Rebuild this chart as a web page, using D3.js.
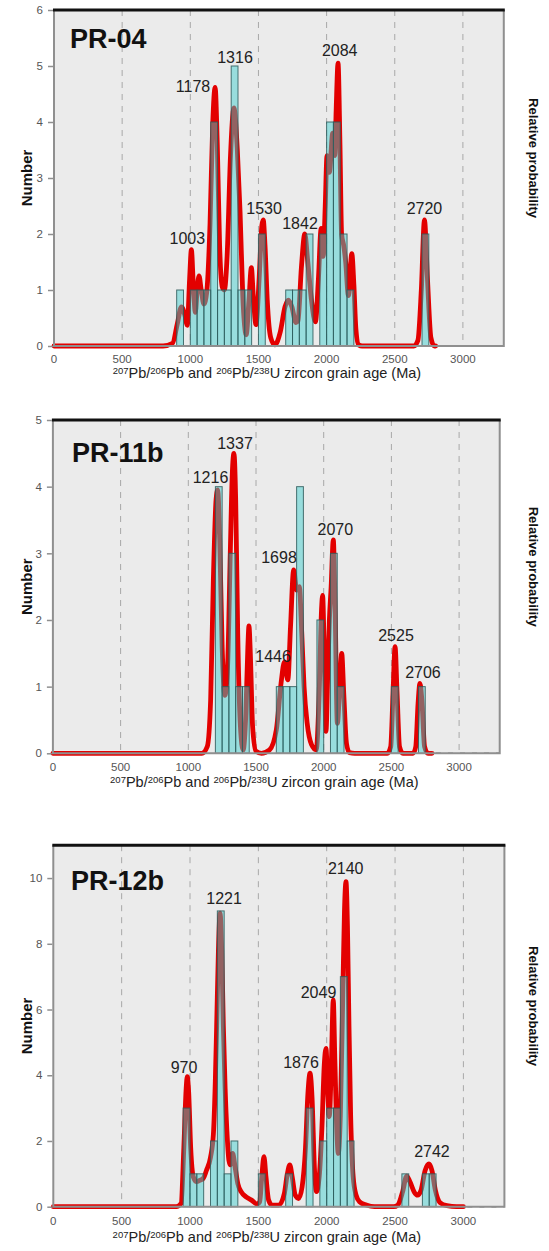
<!DOCTYPE html>
<html lang="en">
<head>
<meta charset="UTF-8">
<title>Zircon age spectra</title>
<script src="https://d3js.org/d3.v7.min.js"></script>
<style>
    body { margin: 0; background: #fff; }
    svg text { font-family: "Liberation Sans", Arial, sans-serif; }
</style>
</head>
<body>
<div id="chart"></div>
<script>
// ---- data ----
const xTicks = [0, 500, 1000, 1500, 2000, 2500, 3000]
const gridAges = [500, 1000, 1500, 2000, 2500, 3000]
const binWidth = 50

// PR-04
const pr04YTicks = [0, 1, 2, 3, 4, 5, 6]
const pr04BinStart = [900, 1000, 1050, 1100, 1150, 1200, 1250, 1300, 1350, 1400, 1500, 1700, 1750, 1800, 1850, 1950, 2000, 2050, 2100, 2150, 2700]
const pr04BinCount = [1, 1, 1, 1, 4, 1, 1, 5, 1, 1, 2, 1, 1, 1, 2, 2, 4, 4, 2, 1, 2]
const pr04CurveAge = [0, 800, 870, 905, 935, 960, 978, 995, 1008, 1022, 1037, 1050, 1064, 1080, 1100, 1120, 1145, 1165, 1182, 1198, 1215, 1235, 1250, 1270, 1295, 1320, 1345, 1365, 1385, 1410, 1430, 1448, 1462, 1482, 1505, 1525, 1535, 1548, 1565, 1590, 1620, 1660, 1695, 1720, 1745, 1775, 1790, 1815, 1840, 1862, 1890, 1918, 1940, 1960, 1975, 1990, 2003, 2020, 2045, 2060, 2070, 2084, 2098, 2110, 2125, 2140, 2160, 2185, 2200, 2215, 2235, 2260, 2640, 2670, 2695, 2718, 2740, 2765, 2790, 2800]
const pr04CurveValue = [0, 0, 0.05, 0.4, 0.7, 0.55, 0.37, 1.2, 1.72, 1.1, 0.6, 1.0, 1.25, 1.0, 0.75, 0.95, 2.2, 4.0, 4.62, 3.6, 1.8, 1.05, 1.0, 1.6, 3.4, 4.25, 3.5, 2.4, 0.9, 0.2, 0.8, 1.4, 0.9, 0.38, 1.2, 2.15, 2.25, 1.8, 0.8, 0.15, 0.02, 0.25, 0.7, 0.82, 0.7, 0.42, 0.45, 1.4, 2.0, 1.5, 0.8, 0.43, 1.2, 2.1, 1.6, 2.5, 3.4, 3.1, 3.8, 3.4, 4.2, 5.05, 3.6, 2.0, 1.8, 1.5, 0.9, 1.65, 1.1, 0.3, 0.02, 0, 0, 0.1, 1.0, 2.25, 1.2, 0.15, 0, 0]
const pr04Peaks = [1003, 1178, 1316, 1530, 1842, 2084, 2720]

// PR-11b
const pr11YTicks = [0, 1, 2, 3, 4, 5]
const pr11BinStart = [1200, 1250, 1300, 1350, 1400, 1650, 1700, 1750, 1800, 1950, 2050, 2100, 2500, 2700]
const pr11BinCount = [4, 1, 3, 1, 1, 1, 1, 1, 4, 2, 3, 1, 1, 1]
const pr11CurveAge = [0, 1100, 1140, 1165, 1185, 1205, 1217, 1232, 1250, 1270, 1290, 1310, 1325, 1337, 1350, 1365, 1385, 1405, 1425, 1440, 1448, 1458, 1475, 1500, 1540, 1600, 1650, 1685, 1710, 1735, 1755, 1778, 1800, 1820, 1838, 1855, 1878, 1910, 1945, 1965, 1985, 1992, 2003, 2017, 2030, 2042, 2055, 2071, 2084, 2101, 2118, 2133, 2148, 2168, 2190, 2230, 2470, 2495, 2512, 2527, 2542, 2560, 2585, 2660, 2680, 2697, 2711, 2725, 2745, 2770, 2800]
const pr11CurveValue = [0, 0, 0.1, 0.8, 2.6, 3.8, 3.95, 3.2, 1.6, 0.87, 1.3, 3.0, 4.2, 4.5, 3.8, 1.8, 0.4, 0.05, 0.6, 1.6, 1.91, 1.5, 0.4, 0.03, 0, 0.05, 0.35, 1.05, 1.37, 1.1, 1.9, 2.75, 2.45, 2.5, 1.8, 1.0, 0.45, 0.13, 0.05, 0.8, 2.2, 2.37, 1.6, 0.33, 1.2, 2.0, 2.5, 3.2, 2.2, 0.45, 1.0, 1.5, 0.9, 0.15, 0.01, 0, 0, 0.1, 0.9, 1.6, 0.9, 0.1, 0, 0, 0.1, 0.75, 1.05, 0.8, 0.1, 0, 0]
const pr11Peaks = [1216, 1337, 1446, 1698, 2070, 2525, 2706]

// PR-12b
const pr12YTicks = [0, 2, 4, 6, 8, 10]
const pr12BinStart = [950, 1000, 1050, 1150, 1200, 1250, 1300, 1500, 1700, 1850, 1950, 2000, 2050, 2100, 2150, 2550, 2700, 2750]
const pr12BinCount = [3, 1, 1, 2, 9, 1, 2, 1, 1, 3, 2, 3, 3, 7, 2, 1, 1, 1]
const pr12CurveAge = [0, 900, 935, 955, 972, 980, 990, 1005, 1025, 1049, 1070, 1095, 1120, 1150, 1171, 1185, 1195, 1208, 1220, 1232, 1244, 1257, 1270, 1285, 1295, 1312, 1330, 1350, 1375, 1410, 1450, 1490, 1510, 1525, 1541, 1556, 1575, 1600, 1650, 1690, 1712, 1730, 1748, 1770, 1795, 1820, 1845, 1862, 1878, 1893, 1910, 1925, 1945, 1965, 1982, 1995, 2008, 2019, 2035, 2048, 2060, 2075, 2085, 2100, 2118, 2130, 2141, 2152, 2163, 2175, 2194, 2215, 2240, 2290, 2350, 2490, 2520, 2555, 2585, 2610, 2640, 2665, 2690, 2720, 2748, 2770, 2795, 2830, 2880, 2950, 3000]
const pr12CurveValue = [0, 0, 0.1, 1.8, 3.6, 3.96, 3.5, 1.8, 0.9, 0.76, 0.8, 0.85, 1.1, 1.5, 2.2, 3.8, 5.5, 7.8, 8.93, 7.8, 5.5, 3.6, 2.3, 1.4, 1.27, 1.62, 1.2, 0.7, 0.45, 0.3, 0.2, 0.08, 0.15, 0.9, 1.52, 0.9, 0.2, 0.05, 0.05, 0.4, 1.0, 1.27, 0.9, 0.35, 0.25, 0.6, 1.8, 3.4, 4.06, 3.3, 1.2, 0.46, 0.9, 2.4, 4.3, 4.82, 3.5, 2.74, 4.5, 6.29, 4.4, 2.2, 1.62, 2.8, 6.5, 9.0, 9.89, 8.5, 5.5, 2.8, 0.9, 0.35, 0.15, 0.05, 0, 0, 0.05, 0.45, 0.93, 0.75, 0.45, 0.35, 0.5, 1.1, 1.3, 1.1, 0.5, 0.12, 0.03, 0, 0]
const pr12Peaks = [970, 1221, 1876, 2049, 2140, 2742]

// ---- layout (pixels), label anchors in data units ----
const panels = [
    { name: "PR-04", yMax: 6, yTicks: pr04YTicks, bins: pr04BinStart, counts: pr04BinCount,
      cAge: pr04CurveAge, cVal: pr04CurveValue, peaks: pr04Peaks,
      x0: 54, k: 0.1363, top: 10, bottom: 346, tickDy: 17, titleDy: 32, nameX: 70, nameY: 48,
      labelAt: [[978, 1.82], [1020, 4.54], [1328, 5.06], [1541, 2.36], [1805, 2.09], [2096, 5.17], [2718, 2.36]] },
    { name: "PR-11b", yMax: 5, yTicks: pr11YTicks, bins: pr11BinStart, counts: pr11BinCount,
      cAge: pr11CurveAge, cVal: pr11CurveValue, peaks: pr11Peaks,
      x0: 52.9, k: 0.1354, top: 420, bottom: 753.3, tickDy: 18, titleDy: 34, nameX: 72, nameY: 462,
      labelAt: [[1164, 4.06], [1345, 4.57], [1626, 1.37], [1670, 2.86], [2086, 3.28], [2534, 1.69], [2733, 1.13]] },
    { name: "PR-12b", yMax: 11, yTicks: pr12YTicks, bins: pr12BinStart, counts: pr12BinCount,
      cAge: pr12CurveAge, cVal: pr12CurveValue, peaks: pr12Peaks,
      x0: 53.3, k: 0.1367, top: 845.2, bottom: 1206.7, tickDy: 18, titleDy: 35, nameX: 71, nameY: 890,
      labelAt: [[956, 4.08], [1249, 9.2], [1812, 4.21], [1940, 6.34], [2139, 10.12], [2770, 1.52]] }
]

const width = 549
const height = 1251
const xMax = 3300

const svg = d3.select("#chart").append("svg")
    .attr("width", width)
    .attr("height", height)

const titleParts = [["207", true], ["Pb/", false], ["206", true], ["Pb and ", false], ["206", true], ["Pb/", false], ["238", true], ["U zircon grain age (Ma)", false]]

panels.forEach(p => {
    const xScale = d3.scaleLinear().domain([0, xMax]).range([p.x0, p.x0 + xMax * p.k])
    const yScale = d3.scaleLinear().domain([0, p.yMax]).range([p.bottom, p.top])
    const left = xScale(0), right = xScale(xMax)
    const g = svg.append("g")

    // plot background
    g.append("rect")
        .attr("x", left).attr("y", p.top)
        .attr("width", right - left).attr("height", p.bottom - p.top)
        .attr("fill", "#ebebeb")

    // dashed verticals
    g.selectAll(".grid").data(gridAges).join("line")
        .attr("x1", d => xScale(d)).attr("x2", d => xScale(d))
        .attr("y1", p.top).attr("y2", p.bottom)
        .attr("stroke", "#a8a8a8").attr("stroke-width", 1)
        .attr("stroke-dasharray", "6,6")

    // probability curve (drawn under the histogram)
    const pts = p.cAge.map((a, i) => [a, p.cVal[i]])
    const line = d3.line()
        .x(d => xScale(d[0]))
        .y(d => yScale(d[1]))
        .curve(d3.curveMonotoneX)
    g.append("path")
        .attr("d", line(pts))
        .attr("fill", "none")
        .attr("stroke", "#e30000")
        .attr("stroke-width", 4.8)
        .attr("stroke-linejoin", "round")
        .attr("stroke-linecap", "round")

    // histogram
    const bars = p.bins.map((b, i) => ({ start: b, n: p.counts[i] }))
    g.selectAll(".bar").data(bars).join("rect")
        .attr("x", d => xScale(d.start))
        .attr("y", d => yScale(d.n))
        .attr("width", d => xScale(d.start + binWidth) - xScale(d.start))
        .attr("height", d => yScale(0) - yScale(d.n))
        .attr("fill", "rgb(60,205,205)")
        .attr("fill-opacity", 0.48)
        .attr("stroke", "#2e5a5a")
        .attr("stroke-opacity", 0.85)
        .attr("stroke-width", 1)

    // baseline dashes right of the curve
    const lastAge = d3.max(p.cAge)
    g.append("line")
        .attr("x1", xScale(lastAge) + 4).attr("x2", right)
        .attr("y1", p.bottom).attr("y2", p.bottom)
        .attr("stroke", "#777").attr("stroke-width", 1.5)
        .attr("stroke-dasharray", "5,7")

    // frame
    g.append("path")
        .attr("d", `M${left},${p.top}V${p.bottom}H${right}V${p.top}`)
        .attr("fill", "none").attr("stroke", "#8f8f8f").attr("stroke-width", 2)
    g.append("line")
        .attr("x1", left - 1).attr("x2", right + 1)
        .attr("y1", p.top).attr("y2", p.top)
        .attr("stroke", "#111").attr("stroke-width", 3)

    // y axis
    const yAxis = d3.axisLeft(yScale).tickValues(p.yTicks).tickFormat(d3.format("d")).tickSize(5).tickPadding(5)
    const ya = g.append("g")
        .attr("transform", `translate(${left - 1},0)`)
        .call(yAxis)
    ya.select(".domain").remove()
    ya.selectAll("line").attr("stroke", "#8f8f8f").attr("stroke-width", 1.5)
    ya.selectAll("text").attr("fill", "#555").style("font-size", "11.5px")

    // x tick labels
    g.selectAll(".xt").data(xTicks).join("text")
        .attr("x", d => xScale(d))
        .attr("y", p.bottom + p.tickDy)
        .attr("text-anchor", "middle")
        .attr("fill", "#555")
        .style("font-size", "11.5px")
        .text(d => d)

    // x title
    const xt = g.append("text")
        .attr("x", (left + right) / 2 - 12)
        .attr("y", p.bottom + p.titleDy)
        .attr("text-anchor", "middle")
        .attr("fill", "#222")
        .style("font-size", "14.5px")
    titleParts.forEach(([s, sup]) => {
        xt.append("tspan")
            .attr("dy", sup ? -4 : 4)
            .style("font-size", sup ? "9.5px" : "14.5px")
            .text(s)
    })

    // y titles
    const midY = (p.top + p.bottom) / 2
    g.append("text")
        .attr("transform", `translate(32,${midY}) rotate(-90)`)
        .attr("text-anchor", "middle")
        .attr("font-weight", "bold")
        .attr("fill", "#111")
        .style("font-size", "15px")
        .text("Number")
    g.append("text")
        .attr("transform", `translate(529,${midY - 20}) rotate(90)`)
        .attr("text-anchor", "middle")
        .attr("font-weight", "bold")
        .attr("fill", "#111")
        .style("font-size", "13px")
        .text("Relative probability")

    // sample name
    g.append("text")
        .attr("x", p.nameX).attr("y", p.nameY)
        .attr("font-weight", "bold")
        .attr("fill", "#111")
        .style("font-size", "27px")
        .text(p.name)

    // peak labels
    g.selectAll(".pk").data(p.peaks).join("text")
        .attr("x", (d, i) => xScale(p.labelAt[i][0]))
        .attr("y", (d, i) => yScale(p.labelAt[i][1]))
        .attr("text-anchor", "middle")
        .attr("fill", "#222")
        .style("font-size", "16px")
        .text(d => d)
})
</script>
</body>
</html>
